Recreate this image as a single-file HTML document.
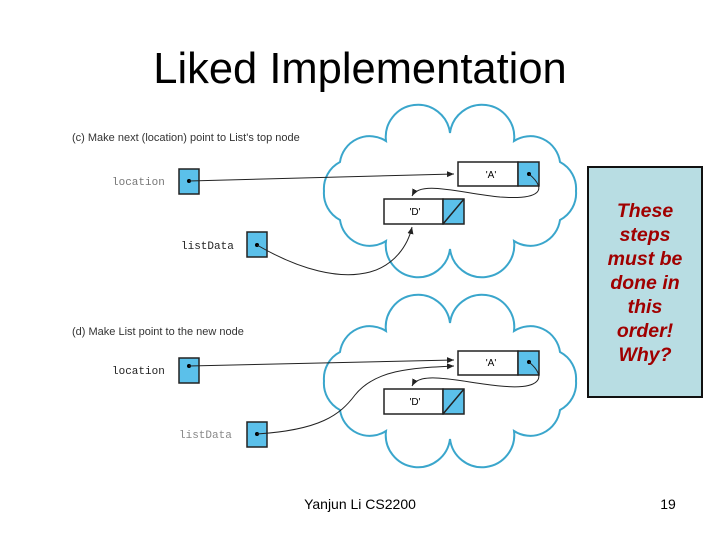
<!DOCTYPE html>
<html><head><meta charset="utf-8"><style>
html,body{margin:0;padding:0;background:#fff;}
body{width:720px;height:540px;overflow:hidden;position:relative;font-family:"Liberation Sans",sans-serif;}
</style></head><body>
<svg width="720" height="540" viewBox="0 0 720 540" xmlns="http://www.w3.org/2000/svg">
<defs>
<marker id="ar" markerWidth="8" markerHeight="8" refX="7" refY="4" orient="auto" markerUnits="userSpaceOnUse">
<path d="M0,1 L7,4 L0,7 Z" fill="#222"/></marker>
<g id="cloud">
<path d="M576,191 A30,30 0 0 1 560,220 A30,30 0 0 1 514,241 A30,30 0 0 1 450,249 A30,30 0 0 1 386,241 A30,30 0 0 1 340,220 A30,30 0 0 1 324,191 A30,30 0 0 1 340,162 A30,30 0 0 1 386,141 A30,30 0 0 1 450,133 A30,30 0 0 1 514,141 A30,30 0 0 1 560,162 A30,30 0 0 1 576,191 Z" fill="#fff" stroke="#3aa6cc" stroke-width="2"/>
</g>
</defs>
<text x="360" y="83" font-size="43.5" text-anchor="middle" fill="#000">Liked Implementation</text>

<!-- panel c -->
<text x="72" y="141" font-size="11" fill="#333">(c) Make next (location) point to List's top node</text>
<use href="#cloud"/>
<text x="112" y="185" font-size="11" font-family="Liberation Mono,monospace" fill="#777">location</text>
<rect x="179" y="169" width="20" height="25" fill="#5bc0ea" stroke="#222" stroke-width="1.5"/>
<circle cx="189" cy="181" r="2" fill="#000"/>
<text x="181" y="249" font-size="11" font-family="Liberation Mono,monospace" fill="#222">listData</text>
<rect x="247" y="232" width="20" height="25" fill="#5bc0ea" stroke="#222" stroke-width="1.5"/>
<circle cx="257" cy="245" r="2" fill="#000"/>
<rect x="458" y="162" width="60" height="24" fill="#fff" stroke="#222" stroke-width="1.5"/>
<rect x="518" y="162" width="21" height="24" fill="#5bc0ea" stroke="#222" stroke-width="1.5"/>
<circle cx="529" cy="174" r="2" fill="#000"/>
<text x="491" y="178" font-size="10" text-anchor="middle">'A'</text>
<rect x="384" y="199" width="59" height="25" fill="#fff" stroke="#222" stroke-width="1.5"/>
<rect x="443" y="199" width="21" height="25" fill="#5bc0ea" stroke="#222" stroke-width="1.5"/>
<line x1="443" y1="224" x2="464" y2="199" stroke="#222" stroke-width="1.5"/>
<text x="415" y="215" font-size="10" text-anchor="middle">'D'</text>
<path d="M189,181 L454,174" fill="none" stroke="#222" stroke-width="1" marker-end="url(#ar)"/>
<path d="M529,174 C548,190 540,200 500,197 C460,193 420,180 412,196" fill="none" stroke="#222" stroke-width="1" marker-end="url(#ar)"/>
<path d="M257,245 C300,270 340,280 370,272 C395,265 408,245 412,227" fill="none" stroke="#222" stroke-width="1" marker-end="url(#ar)"/>

<!-- panel d -->
<text x="72" y="335" font-size="11" fill="#333">(d) Make List point to the new node</text>
<use href="#cloud" transform="translate(0,190)"/>
<text x="112" y="374" font-size="11" font-family="Liberation Mono,monospace" fill="#222">location</text>
<rect x="179" y="358" width="20" height="25" fill="#5bc0ea" stroke="#222" stroke-width="1.5"/>
<circle cx="189" cy="366" r="2" fill="#000"/>
<text x="179" y="438" font-size="11" font-family="Liberation Mono,monospace" fill="#888">listData</text>
<rect x="247" y="422" width="20" height="25" fill="#5bc0ea" stroke="#222" stroke-width="1.5"/>
<circle cx="257" cy="434" r="2" fill="#000"/>
<rect x="458" y="351" width="60" height="24" fill="#fff" stroke="#222" stroke-width="1.5"/>
<rect x="518" y="351" width="21" height="24" fill="#5bc0ea" stroke="#222" stroke-width="1.5"/>
<circle cx="529" cy="362" r="2" fill="#000"/>
<text x="491" y="366" font-size="10" text-anchor="middle">'A'</text>
<rect x="384" y="389" width="59" height="25" fill="#fff" stroke="#222" stroke-width="1.5"/>
<rect x="443" y="389" width="21" height="25" fill="#5bc0ea" stroke="#222" stroke-width="1.5"/>
<line x1="443" y1="414" x2="464" y2="389" stroke="#222" stroke-width="1.5"/>
<text x="415" y="405" font-size="10" text-anchor="middle">'D'</text>
<path d="M189,366 L454,360" fill="none" stroke="#222" stroke-width="1" marker-end="url(#ar)"/>
<path d="M529,362 C548,378 540,390 500,386 C460,382 420,370 412,386" fill="none" stroke="#222" stroke-width="1" marker-end="url(#ar)"/>
<path d="M257,434 C320,430 340,415 355,395 C375,370 410,368 454,366" fill="none" stroke="#222" stroke-width="1" marker-end="url(#ar)"/>

<!-- note box -->
<rect x="588" y="167" width="114" height="230" fill="#b8dde3" stroke="#111" stroke-width="2"/>
<g font-size="19.5" font-weight="bold" font-style="italic" fill="#a00000" text-anchor="middle">
<text x="645" y="217">These</text>
<text x="645" y="241">steps</text>
<text x="645" y="265">must be</text>
<text x="645" y="289">done in</text>
<text x="645" y="313">this</text>
<text x="645" y="337">order!</text>
<text x="645" y="361">Why?</text>
</g>

<text x="360" y="509" font-size="14" text-anchor="middle">Yanjun Li CS2200</text>
<text x="668" y="509" font-size="14" text-anchor="middle">19</text>
</svg>
</body></html>
